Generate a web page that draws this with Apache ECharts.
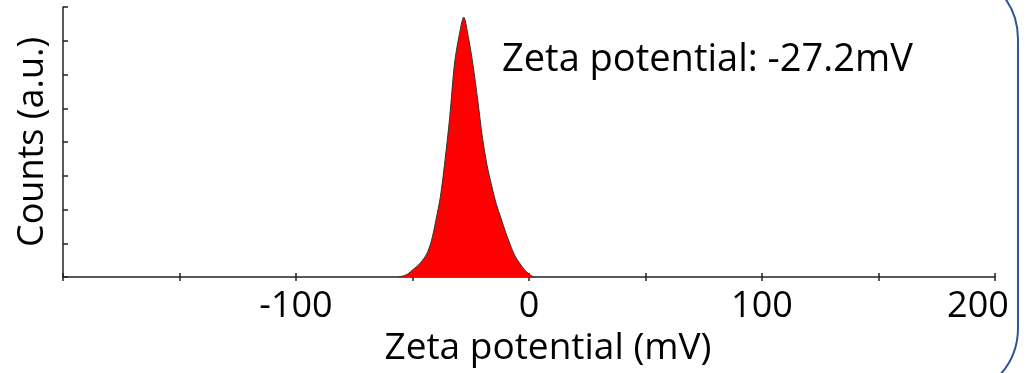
<!DOCTYPE html>
<html>
<head>
<meta charset="utf-8">
<script src="https://cdn.jsdelivr.net/npm/echarts@6/dist/echarts.min.js"></script>
<style>
  html, body { margin: 0; padding: 0; background: #fff; }
  #chart { width: 1026px; height: 373px; }
</style>
</head>
<body>
<div id="chart"></div>
<script>
// zeta potential (mV) and counts
const zeta = [-56, -54, -52, -50, -48, -46, -44, -42, -40, -38, -36, -34, -32, -30, -28, -26, -24, -22, -20, -18, -16, -14, -12, -10, -8, -6, -4, -2, 0, 2]
const counts = [0, 0.03, 0.09, 0.21, 0.32, 0.47, 0.67, 1.04, 1.67, 2.39, 3.49, 4.75, 6.31, 7.15, 7.7, 7.1, 6.27, 5.24, 4.14, 3.31, 2.7, 2.15, 1.74, 1.32, 0.95, 0.62, 0.41, 0.22, 0.09, 0]
const shownTicks = [-100, 0, 100, 200]
const zetaText = 'Zeta potential: -27.2mV'

const font = 'Open Sans'
const chart = echarts.init(document.getElementById('chart'))

const option = {
  backgroundColor: '#fff',
  animation: false,
  title: {
    text: zetaText,
    left: 497,
    top: 36,
    textStyle: { fontFamily: font, fontSize: 38, fontWeight: 'normal', color: '#000' }
  },
  grid: { left: 63, right: 31, top: 7, bottom: 96 },
  xAxis: [
    {
      type: 'value',
      min: -200,
      max: 200,
      interval: 50,
      splitLine: { show: false },
      axisLine: { lineStyle: { color: '#222', width: 1.5 } },
      axisTick: { length: 4, lineStyle: { color: '#222', width: 1.5 } },
      axisLabel: {
        margin: 12,
        fontFamily: font,
        fontSize: 36,
        color: '#000',
        formatter: (v) => {
          if (!shownTicks.includes(v)) return ''
          return v === 200 ? '{last|' + v + '}' : '' + v
        },
        rich: { last: { fontFamily: font, fontSize: 36, color: '#000', padding: [0, 34, 0, 0] } }
      },
      name: 'Zeta potential (mV)',
      nameLocation: 'middle',
      nameGap: 52,
      nameTextStyle: { fontFamily: font, fontSize: 37, color: '#000', padding: [0, 0, 0, 38] }
    },
    {
      type: 'value',
      position: 'bottom',
      min: -200,
      max: 200,
      interval: 50,
      splitLine: { show: false },
      axisLine: { show: false },
      axisLabel: { show: false },
      axisTick: { inside: true, length: 4, lineStyle: { color: '#222', width: 1.5 } }
    }
  ],
  yAxis: {
    type: 'value',
    min: 0,
    max: 8,
    interval: 1,
    splitLine: { show: false },
    axisLine: { show: true, onZero: false, lineStyle: { color: '#222', width: 1.5 } },
    axisTick: { show: true, inside: true, length: 5, lineStyle: { color: '#222', width: 1.5 } },
    axisLabel: { show: false },
    name: 'Counts (a.u.)',
    nameLocation: 'middle',
    nameGap: 12,
    nameTextStyle: { fontFamily: font, fontSize: 36, color: '#000' }
  },
  series: [
    {
      type: 'line',
      data: zeta.map((v, i) => [v, counts[i]]),
      smooth: 0.3,
      showSymbol: false,
      lineStyle: { color: '#333', width: 1 },
      areaStyle: { color: '#ff0000', opacity: 1 }
    }
  ],
  graphic: [
    {
      type: 'rect',
      silent: true,
      shape: { x: -100, y: -31, width: 1118, height: 429, r: 70 },
      style: { fill: 'none', stroke: '#2f5597', lineWidth: 2 }
    }
  ]
}

option && chart.setOption(option)
</script>
</body>
</html>
